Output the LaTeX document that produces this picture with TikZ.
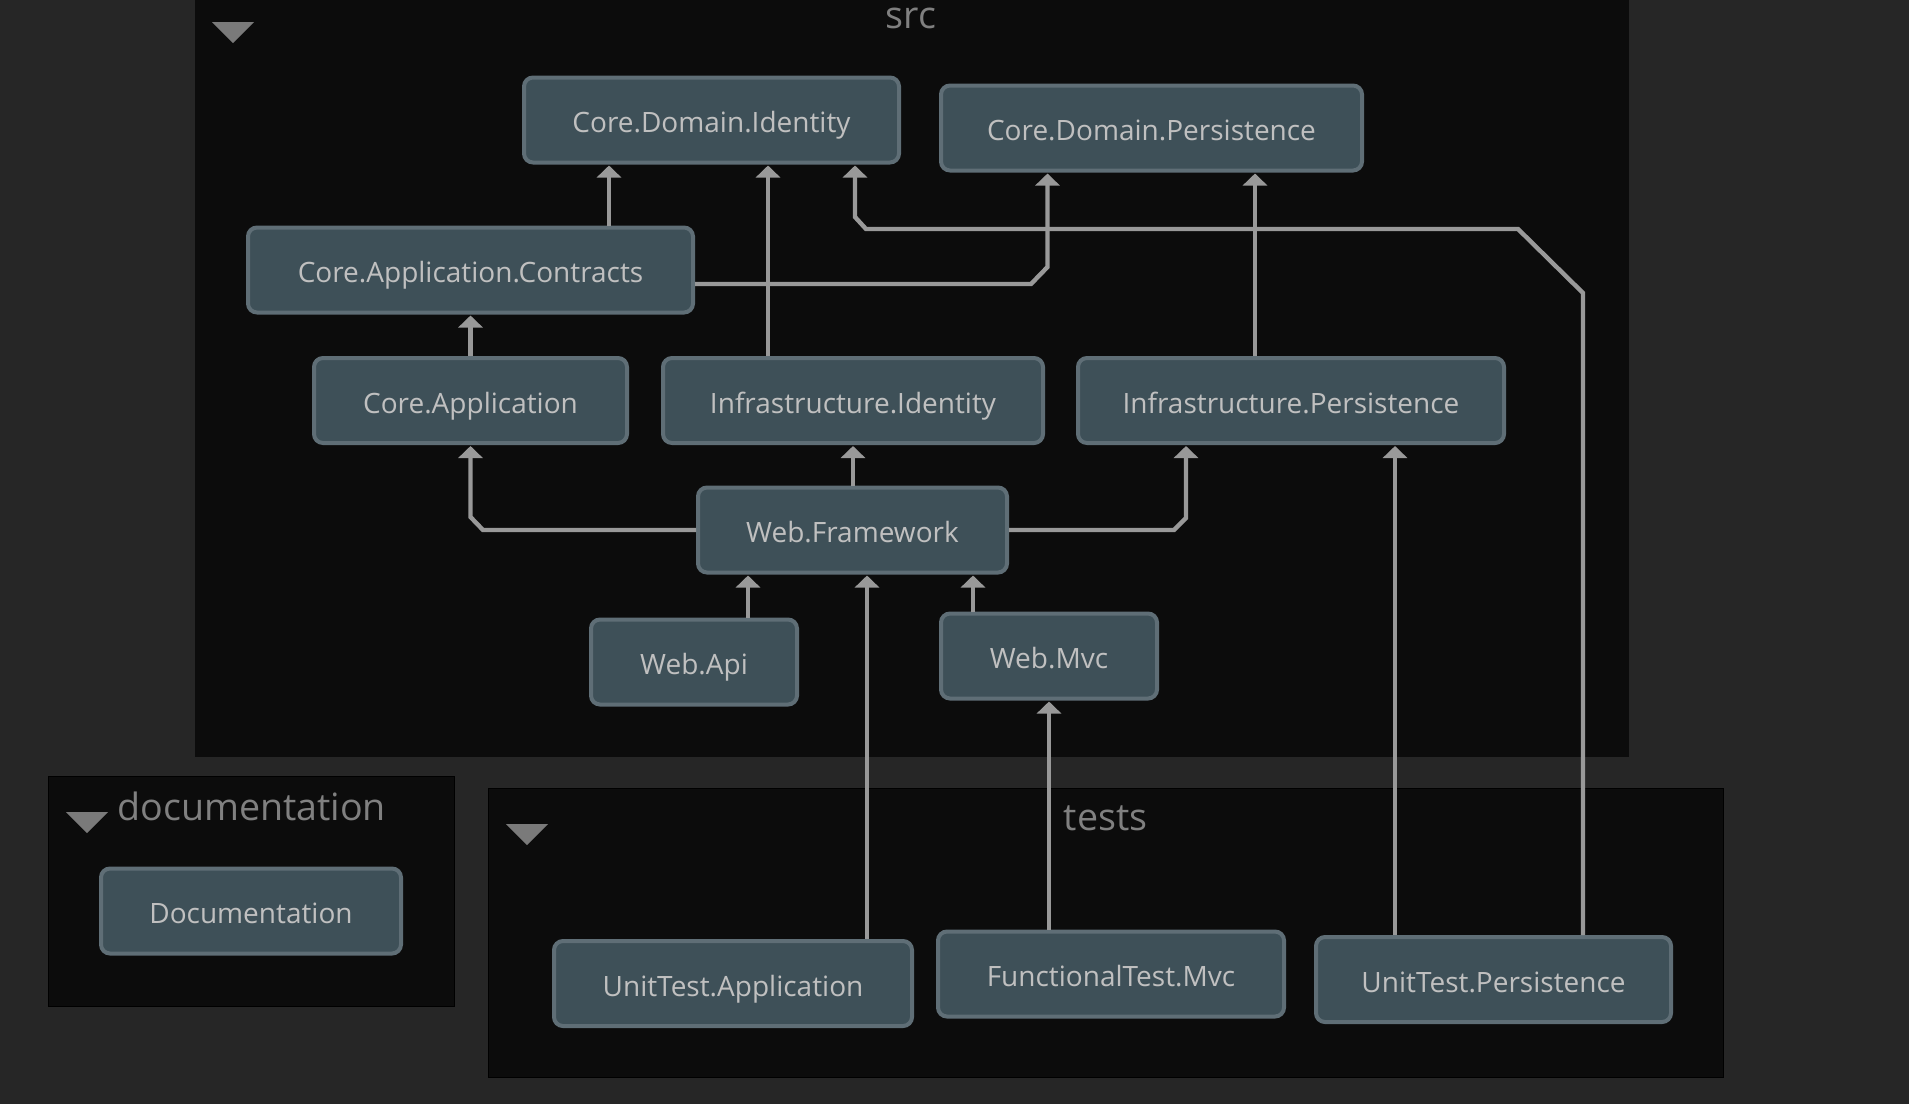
\documentclass[tikz,border=0pt]{standalone}
\usepackage{fontspec}
\setmainfont{Open Sans}
\usetikzlibrary{arrows.meta}
\definecolor{outerbg}{HTML}{262626}
\definecolor{panelbg}{HTML}{0C0C0C}
\definecolor{boxfill}{HTML}{3E5058}
\definecolor{boxline}{HTML}{5F6E76}
\definecolor{boxtext}{HTML}{C0C0C0}
\definecolor{edgecol}{HTML}{999999}
\definecolor{grouptext}{HTML}{808080}
\definecolor{tri}{HTML}{7A7A7A}
\tikzset{
  proj/.style={draw=boxline, fill=boxfill, line width=2pt, rounded corners=4.5pt,
    text=boxtext, font=\fontsize{14}{16}\selectfont, inner sep=0pt,
    text height=12.5pt, text depth=0pt, minimum height=42.5pt},
  dep/.style={draw=edgecol, line width=2.2pt, -{Triangle[width=12pt,length=6pt]}, shorten >=0.5pt},
  panel/.style={fill=panelbg},
  glabel/.style={text=grouptext, font=\fontsize{18.8}{22}\selectfont, inner sep=0pt},
  collapse/.style={fill=tri}
}
\begin{document}
\begin{tikzpicture}[x=0.5pt,y=-0.5pt]
\useasboundingbox (0,0) rectangle (1909,1104);
\fill[outerbg] (0,0) rectangle (1909,1104);
% panels
\fill[panel] (195,-2) rectangle (1629,757);
\filldraw[panel, draw=black, line width=0.5pt] (48,776) rectangle (454,1006);
\filldraw[panel, draw=black, line width=0.5pt] (488,788) rectangle (1723,1077);
% collapse triangles
\fill[collapse] (212,22) -- (254,22) -- (233,43) -- cycle;
\fill[collapse] (66,812) -- (108,812) -- (87,833) -- cycle;
\fill[collapse] (506,824) -- (548,824) -- (527,845) -- cycle;
% group labels
\node[glabel, anchor=base] (lsrc) at (911,28) {src};
\node[glabel, anchor=base west] (ldoc) at (117,820) {documentation};
\node[glabel, anchor=base] (ltests) at (1105.5,830) {tests};
% nodes
\node[proj, minimum width=187.5pt] (cdi) at (711.5,120) {Core.Domain.Identity};
\node[proj, minimum width=210.5pt] (cdp) at (1151.5,128) {Core.Domain.Persistence};
\node[proj, minimum width=222.5pt] (cac) at (470.5,270) {Core.Application.Contracts};
\node[proj, minimum width=156.5pt] (ca) at (470.5,400.5) {Core.Application};
\node[proj, minimum width=190pt] (ii) at (853,400.5) {Infrastructure.Identity};
\node[proj, minimum width=213pt] (ip) at (1291,400.5) {Infrastructure.Persistence};
\node[proj, minimum width=154.5pt] (wf) at (852.5,530) {Web.Framework};
\node[proj, minimum width=103pt] (wa) at (694,662) {Web.Api};
\node[proj, minimum width=108pt] (wm) at (1049,656) {Web.Mvc};
\node[proj, minimum width=150pt] (doc) at (251,911) {Documentation};
\node[proj, minimum width=179pt] (uta) at (733,983.5) {UnitTest.Application};
\node[proj, minimum width=173pt] (ftm) at (1111,974) {FunctionalTest.Mvc};
\node[proj, minimum width=177.5pt] (utp) at (1493.5,979.5) {UnitTest.Persistence};
% x positions of vertical connector segments
\coordinate (xa) at (609,0);
\coordinate (xb) at (768,0);
\coordinate (xc) at (1047.5,0);
\coordinate (xd) at (855,0);
\coordinate (xe) at (1583,0);
\coordinate (xf) at (1255,0);
\coordinate (xg) at (470.5,0);
\coordinate (xh) at (853,0);
\coordinate (xi) at (1186,0);
\coordinate (xj) at (748,0);
\coordinate (xk) at (867,0);
\coordinate (xl) at (973,0);
\coordinate (xm) at (1049,0);
\coordinate (xn) at (1395,0);
% connectors
\draw[dep] (cac.north -| xa) -- (cdi.south -| xa);
\draw[dep] (ii.north -| xb) -- (cdi.south -| xb);
\draw[dep] ([yshift=-7pt]cac.east) -- (1031,284) -- (1047.5,267) -- (cdp.south -| xc);
\draw[dep] (utp.north -| xe) -- (1583,293) -- (1518,229) -- (866,229) -- (855,217) -- (cdi.south -| xd);
\draw[dep] (ip.north -| xf) -- (cdp.south -| xf);
\draw[dep] (ca.north -| xg) -- (cac.south -| xg);
\draw[dep] (wf.west) -- (483,530) -- (470.5,517) -- (ca.south -| xg);
\draw[dep] (wf.north -| xh) -- (ii.south -| xh);
\draw[dep] (wf.east) -- (1174,530) -- (1186,518) -- (ip.south -| xi);
\draw[dep] (wa.north -| xj) -- (wf.south -| xj);
\draw[dep] (uta.north -| xk) -- (wf.south -| xk);
\draw[dep] (wm.north -| xl) -- (wf.south -| xl);
\draw[dep] (ftm.north -| xm) -- (wm.south -| xm);
\draw[dep] (utp.north -| xn) -- (ip.south -| xn);
\end{tikzpicture}
\end{document}
